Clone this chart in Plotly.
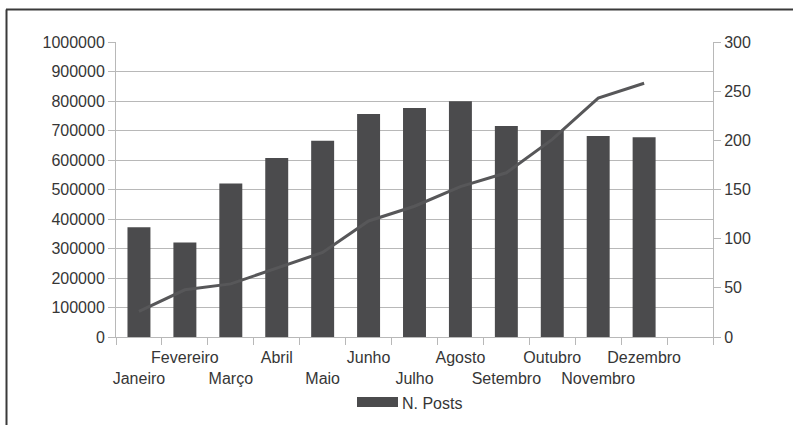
import plotly.graph_objects as go

# Monthly data
months = ["Janeiro", "Fevereiro", "Março", "Abril", "Maio", "Junho",
          "Julho", "Agosto", "Setembro", "Outubro", "Novembro", "Dezembro"]
posts = [372000, 320000, 520000, 607000, 665000, 756000,
         776000, 799000, 715000, 702000, 681000, 677000]
line_values = [26, 48, 54, 70, 86, 118, 133, 153, 167, 201, 243, 258]

left_ticks = list(range(0, 1000001, 100000))
right_ticks = list(range(0, 301, 50))

# an extra empty slot after the last month
categories = months + [" "]
# staggered labels: odd positions drop to a second row
tick_text = [("<br>" + m) if i % 2 == 0 else m for i, m in enumerate(months)] + [""]

FONT = "Liberation Sans, Arial, sans-serif"
TEXT = "#363636"
GRID = "#b8b8b8"
BAR = "#4b4b4d"
FS = 16

fig = go.Figure()
fig.add_trace(go.Bar(
    x=months, y=posts, name="N. Posts",
    marker=dict(color=BAR, line=dict(width=0)),
    showlegend=False,
))
fig.add_trace(go.Scatter(
    x=months, y=line_values, yaxis="y2", mode="lines",
    line=dict(color="#575759", width=3),
    showlegend=False,
))

fig.update_layout(
    width=793, height=425,
    margin=dict(l=116, r=80, t=42, b=88),
    paper_bgcolor="white", plot_bgcolor="white",
    font=dict(family=FONT, size=FS, color=TEXT),
    bargap=0.5,
    xaxis=dict(
        type="category", categoryorder="array", categoryarray=categories,
        range=[-0.5, 12.5],
        tickmode="array", tickvals=categories, ticktext=tick_text,
        tickson="boundaries", ticks="outside", ticklen=7, tickcolor=GRID,
        ticklabelstandoff=6,
        showgrid=False, showline=True, linecolor=GRID, linewidth=1,
        zeroline=False, tickangle=0,
    ),
    yaxis=dict(
        range=[0, 1000000], tickmode="array", tickvals=left_ticks,
        ticktext=[str(v) for v in left_ticks],
        ticks="outside", ticklen=7, tickcolor=GRID,
        showgrid=True, gridcolor=GRID, gridwidth=1,
        showline=True, linecolor=GRID, zeroline=False,
    ),
    yaxis2=dict(
        range=[0, 300], overlaying="y", side="right",
        tickmode="array", tickvals=right_ticks,
        ticks="outside", ticklen=7, tickcolor=GRID,
        showgrid=False, showline=True, linecolor=GRID, zeroline=False,
    ),
)

# legend: wide bar swatch with label
fig.add_shape(type="rect", xref="paper", yref="paper",
              x0=(357 - 116) / 597, x1=(398 - 116) / 597,
              y0=(337 - 407) / 295, y1=(337 - 397) / 295,
              fillcolor=BAR, line=dict(width=0))
fig.add_annotation(xref="paper", yref="paper",
                   x=(400 - 116) / 597, y=(337 - 403) / 295,
                   xanchor="left", yanchor="middle", showarrow=False,
                   text="N. Posts", font=dict(family=FONT, size=FS, color=TEXT))

# frame lines along the top and left edges
fig.add_shape(type="line", xref="paper", yref="paper",
              x0=(6 - 116) / 597, x1=(800 - 116) / 597,
              y0=(337 - 9.5) / 295, y1=(337 - 9.5) / 295,
              line=dict(color="#3a3a3a", width=2))
fig.add_shape(type="line", xref="paper", yref="paper",
              x0=(6.5 - 116) / 597, x1=(6.5 - 116) / 597,
              y0=(337 - 9.5) / 295, y1=(337 - 430) / 295,
              line=dict(color="#3a3a3a", width=2))

fig.write_html("out.html")
